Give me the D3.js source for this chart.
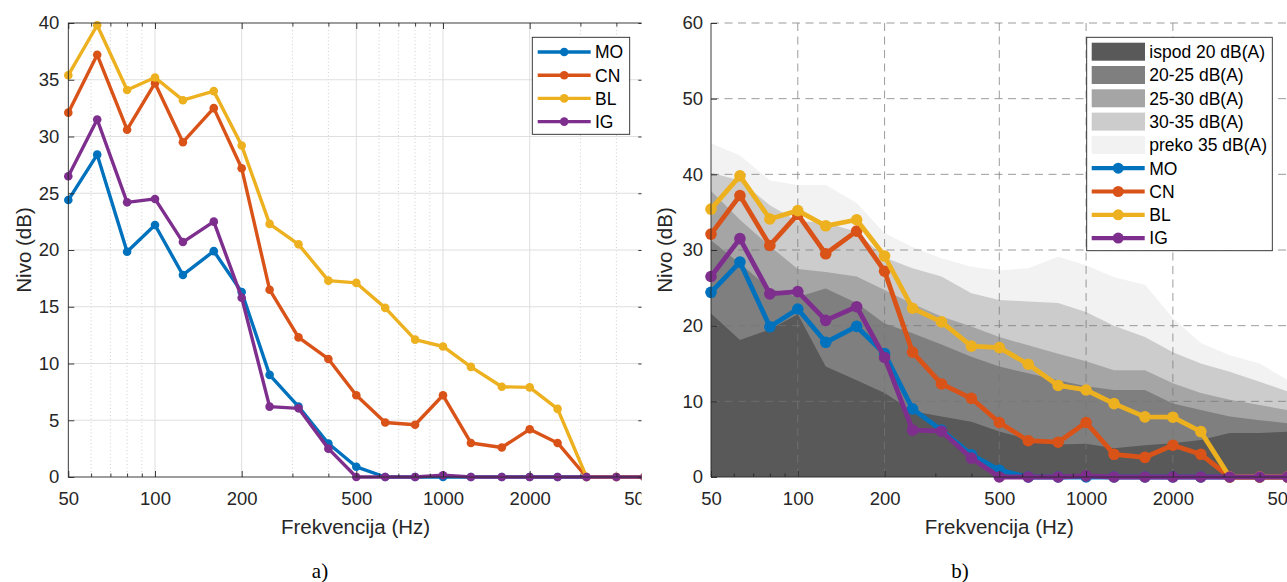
<!DOCTYPE html>
<html><head><meta charset="utf-8">
<script src="https://cdn.jsdelivr.net/npm/d3@7"></script>
<style>body{margin:0;background:#fff} svg{display:block}</style>
</head><body>
<svg id="chart" width="1287" height="582"></svg>
<script>
// ---------- data ----------
const freqs = [50,63,80,100,125,160,200,250,315,400,500,630,800,1000,1250,1600,2000,2500,3150,4000,5000];
const seriesNames = ["MO","CN","BL","IG"];
const MO = [24.4,28.4,19.85,22.2,17.8,19.9,16.3,9.0,6.2,2.95,0.9,0,0,0,0,0,0,0,0,0,0];
const CN = [32.1,37.2,30.6,34.7,29.5,32.5,27.2,16.5,12.3,10.4,7.2,4.8,4.6,7.2,3.0,2.6,4.2,3.0,0,0,0];
const BL = [35.4,39.8,34.1,35.2,33.2,34.0,29.2,22.3,20.5,17.3,17.1,14.9,12.1,11.5,9.7,7.95,7.9,6.0,0,0,0];
const IG = [26.5,31.5,24.2,24.5,20.7,22.5,15.8,6.2,6.05,2.5,0,0,0,0.15,0,0,0,0,0,0,0];
const seriesColors = ["#0072BD","#D95319","#EDB120","#7E2F8E"];

// background band upper limits (panel b)
const bandNames = ["ispod 20 dB(A)","20-25 dB(A)","25-30 dB(A)","30-35 dB(A)","preko 35 dB(A)"];
const bandColors = ["#595959","#7f7f7f","#a5a5a5","#cccccc","#f2f2f2"];
const bandBelow20 = [21.6,18.1,19.5,21.5,14.6,12.8,11.1,8.7,8.0,7.3,6.0,5.0,4.3,4.4,3.8,4.2,4.45,4.9,5.8,5.8,6.0];
const band20to25 = [31.3,28.2,24.9,23.8,24.9,23.0,20.3,19.0,17.5,15.9,14.6,13.7,12.8,12.0,11.5,11.5,9.7,8.85,8.0,7.5,7.1];
const band25to30 = [37.8,34.0,30.5,27.5,27.1,26.5,24.7,22.9,21.2,19.9,18.5,17.4,16.3,15.3,14.1,14.1,12.4,11.1,10.2,9.5,8.85];
const band30to35 = [40.2,39.2,35.9,33.8,33.6,32.4,29.0,27.6,26.5,24.3,23.4,23.2,23.0,21.8,20.0,18.5,16.5,15.0,13.9,12.6,11.3];
const bandOver35 = [44.1,42.5,39.2,38.6,38.6,36.2,32.2,30.4,28.9,27.8,27.3,27.6,29.1,28.0,26.4,25.4,21.0,17.7,16.1,15.0,12.8];

// ticks
const xTickVals = [50,100,200,500,1000,2000,5000];
const xMinorVals = [60,70,80,90,300,400,600,700,800,900,3000,4000];
const yTicksA = [0,5,10,15,20,25,30,35,40];
const yTicksB = [0,10,20,30,40,50,60];
const xLabel = "Frekvencija (Hz)";
const yLabel = "Nivo (dB)";

// ---------- drawing ----------
const series = [MO, CN, BL, IG];
const bands = [bandBelow20, band20to25, band25to30, band30to35, bandOver35];
const svg = d3.select("#chart");
const FONT = "'Liberation Sans', Arial, Helvetica, sans-serif";
const AX = "#262626";
const TICKFS = 18.5, LABFS = 20.5, LEGFS = 17.5;

const defs = svg.append("defs");
defs.append("clipPath").attr("id","clipA").append("rect").attr("x",0).attr("y",0).attr("width",641.5).attr("height",582);
defs.append("clipPath").attr("id","clipB").append("rect").attr("x",645).attr("y",0).attr("width",642).attr("height",582);

function styleAxis(g){
  g.select(".domain").remove();
  g.attr("font-family", FONT).attr("font-size", TICKFS).attr("color", AX);
  g.selectAll(".tick line").attr("stroke-width", 0.9);
}

function drawSeries(g, x, y, lw, r){
  series.forEach((vals, i) => {
    const pts = freqs.map((f, j) => [f, vals[j]]);
    g.append("path").datum(pts)
      .attr("fill","none").attr("stroke", seriesColors[i]).attr("stroke-width", lw)
      .attr("stroke-linejoin","round")
      .attr("d", d3.line().x(d => x(d[0])).y(d => y(d[1])));
    g.selectAll(null).data(pts).enter().append("circle")
      .attr("cx", d => x(d[0])).attr("cy", d => y(d[1])).attr("r", r)
      .attr("fill", seriesColors[i]);
  });
}

function xAxes(g, x, y0, withLabels, top){
  const ab = g.append("g").attr("transform", `translate(0,${y0})`)
    .call(d3.axisBottom(x).tickValues(xTickVals).tickSize(-6).tickPadding(15)
      .tickFormat(withLabels ? d3.format("d") : () => ""));
  styleAxis(ab);
  const am = g.append("g").attr("transform", `translate(0,${y0})`)
    .call(d3.axisBottom(x).tickValues(xMinorVals).tickSize(-3.5).tickFormat(() => ""));
  styleAxis(am);
  if (top !== undefined){
    const at = g.append("g").attr("transform", `translate(0,${top})`)
      .call(d3.axisTop(x).tickValues(xTickVals).tickSize(-6).tickFormat(() => ""));
    styleAxis(at);
    const atm = g.append("g").attr("transform", `translate(0,${top})`)
      .call(d3.axisTop(x).tickValues(xMinorVals).tickSize(-3.5).tickFormat(() => ""));
    styleAxis(atm);
  }
}

function legendLine(g, lx, ly, i, lw, r){
  g.append("line").attr("x1", lx).attr("x2", lx + 53).attr("y1", ly).attr("y2", ly)
    .attr("stroke", seriesColors[i]).attr("stroke-width", lw);
  g.append("circle").attr("cx", lx + 26.5).attr("cy", ly).attr("r", r).attr("fill", seriesColors[i]);
}

// ===== Panel a =====
{
  const g = svg.append("g").attr("clip-path","url(#clipA)");
  const x = d3.scaleLog().domain([50,5000]).range([68.3, 644.3]);
  const y = d3.scaleLinear().domain([0,40]).range([477, 23]);

  // grid
  g.selectAll(null).data(xMinorVals).enter().append("line")
    .attr("x1", d => x(d)).attr("x2", d => x(d)).attr("y1", 23).attr("y2", 477)
    .attr("stroke", "#c4c4c4").attr("stroke-width", 0.8).attr("stroke-dasharray", "1,2.5");
  g.selectAll(null).data(xTickVals.slice(1, -1)).enter().append("line")
    .attr("x1", d => x(d)).attr("x2", d => x(d)).attr("y1", 23).attr("y2", 477)
    .attr("stroke", "#dfdfdf").attr("stroke-width", 1);
  g.selectAll(null).data(yTicksA.slice(1, -1)).enter().append("line")
    .attr("x1", 68.3).attr("x2", 644.3).attr("y1", d => y(d)).attr("y2", d => y(d))
    .attr("stroke", "#dfdfdf").attr("stroke-width", 1);

  drawSeries(g, x, y, 3.4, 4.3);

  // box
  g.append("rect").attr("x", 68.3).attr("y", 23).attr("width", 644.3 - 68.3).attr("height", 454)
    .attr("fill","none").attr("stroke", AX).attr("stroke-width", 0.9);

  xAxes(g, x, 477, true, 23);
  const al = g.append("g").attr("transform","translate(68.3,0)")
    .call(d3.axisLeft(y).tickValues(yTicksA).tickSize(-6).tickPadding(9).tickFormat(d3.format("d")));
  styleAxis(al);
  const ar = g.append("g").attr("transform","translate(644.3,0)")
    .call(d3.axisRight(y).tickValues(yTicksA).tickSize(-6).tickFormat(() => ""));
  styleAxis(ar);

  // labels
  g.append("text").attr("x", 355.5).attr("y", 534).attr("text-anchor","middle")
    .attr("font-family", FONT).attr("font-size", LABFS).attr("fill", AX).text(xLabel);
  g.append("text").attr("transform","translate(31,250) rotate(-90)").attr("text-anchor","middle")
    .attr("font-family", FONT).attr("font-size", LABFS).attr("fill", AX).text(yLabel);

  // legend
  const lg = g.append("g");
  lg.append("rect").attr("x", 532.3).attr("y", 37.3).attr("width", 97.4).attr("height", 97)
    .attr("fill","#fff").attr("stroke", AX).attr("stroke-width", 0.9);
  const ys = [52, 75.2, 98.4, 121.6];
  seriesNames.forEach((n, i) => {
    legendLine(lg, 537.7, ys[i], i, 3.4, 4.3);
    lg.append("text").attr("x", 595).attr("y", ys[i]).attr("dy","0.36em")
      .attr("font-family", FONT).attr("font-size", LEGFS).attr("fill","#000").text(n);
  });

  svg.append("text").attr("x", 320).attr("y", 578).attr("text-anchor","middle")
    .attr("font-family","'Liberation Serif','Times New Roman',serif").attr("font-size", 21)
    .attr("fill","#000").text("a)");
}

// ===== Panel b =====
{
  const g = svg.append("g").attr("clip-path","url(#clipB)");
  const x = d3.scaleLog().domain([50,5000]).range([711, 1287.6]);
  const y = d3.scaleLinear().domain([0,60]).range([477, 23]);

  // bands (draw from highest to lowest)
  for (let b = bands.length - 1; b >= 0; b--){
    const pts = freqs.map((f, j) => [f, bands[b][j]]);
    g.append("path").datum(pts).attr("fill", bandColors[b]).attr("stroke","none")
      .attr("d", d3.area().x(d => x(d[0])).y0(y(0)).y1(d => y(d[1])));
  }

  // dashed grid
  const gridC = "#767676";
  g.selectAll(null).data(xTickVals.slice(1)).enter().append("line")
    .attr("x1", d => x(d)).attr("x2", d => x(d)).attr("y1", 23).attr("y2", 477)
    .attr("stroke", gridC).attr("stroke-opacity", 0.72).attr("stroke-width", 1).attr("stroke-dasharray","8,5.5");
  g.selectAll(null).data(yTicksB.slice(1)).enter().append("line")
    .attr("x1", 711).attr("x2", 1287.6).attr("y1", d => y(d)).attr("y2", d => y(d))
    .attr("stroke", gridC).attr("stroke-opacity", 0.72).attr("stroke-width", 1).attr("stroke-dasharray","8,5.5");

  drawSeries(g, x, y, 4.8, 5.8);

  // axes lines
  g.append("line").attr("x1", 711).attr("x2", 711).attr("y1", 23).attr("y2", 477).attr("stroke", AX).attr("stroke-width", 0.9);
  g.append("line").attr("x1", 711).attr("x2", 1287.6).attr("y1", 477).attr("y2", 477).attr("stroke", AX).attr("stroke-width", 0.9);

  xAxes(g, x, 477, true);
  const al = g.append("g").attr("transform","translate(711,0)")
    .call(d3.axisLeft(y).tickValues(yTicksB).tickSize(-6).tickPadding(8).tickFormat(d3.format("d")));
  styleAxis(al);

  g.append("text").attr("x", 999.3).attr("y", 534).attr("text-anchor","middle")
    .attr("font-family", FONT).attr("font-size", LABFS).attr("fill", AX).text(xLabel);
  g.append("text").attr("transform","translate(672,250) rotate(-90)").attr("text-anchor","middle")
    .attr("font-family", FONT).attr("font-size", LABFS).attr("fill", AX).text(yLabel);

  // legend
  const lg = g.append("g");
  lg.append("rect").attr("x", 1086.7).attr("y", 37.3).attr("width", 185.6).attr("height", 213.4)
    .attr("fill","#fff").attr("stroke", AX).attr("stroke-width", 0.9);
  const y0 = 51.7, dy = 23.3;
  bandNames.forEach((n, i) => {
    const yy = y0 + i * dy;
    lg.append("rect").attr("x", 1091.7).attr("y", yy - 9).attr("width", 53.3).attr("height", 18)
      .attr("fill", bandColors[i]);
    lg.append("text").attr("x", 1149.3).attr("y", yy).attr("dy","0.36em")
      .attr("font-family", FONT).attr("font-size", LEGFS).attr("fill","#000").text(n);
  });
  seriesNames.forEach((n, i) => {
    const yy = y0 + (i + 5) * dy;
    legendLine(lg, 1091.7, yy, i, 4.2, 5.5);
    lg.append("text").attr("x", 1149.3).attr("y", yy).attr("dy","0.36em")
      .attr("font-family", FONT).attr("font-size", LEGFS).attr("fill","#000").text(n);
  });

  svg.append("text").attr("x", 960).attr("y", 578).attr("text-anchor","middle")
    .attr("font-family","'Liberation Serif','Times New Roman',serif").attr("font-size", 21)
    .attr("fill","#000").text("b)");
}
</script>
</body></html>
